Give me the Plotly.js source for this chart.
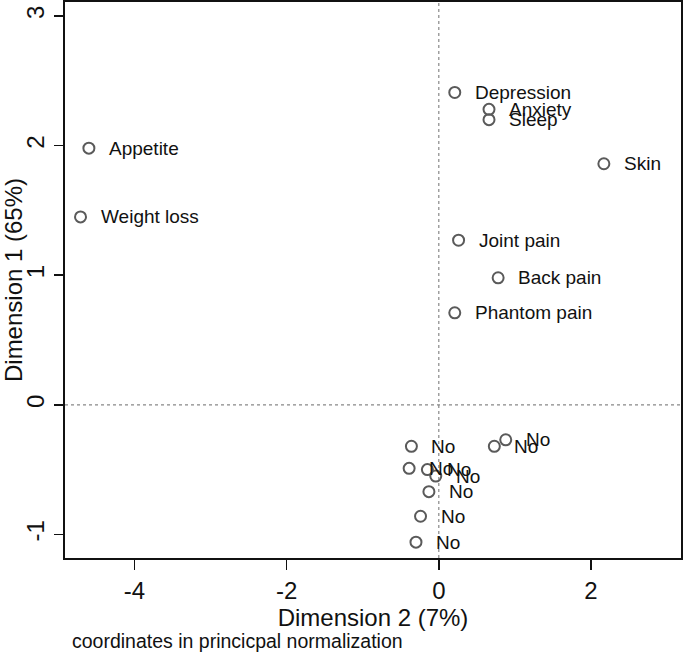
<!DOCTYPE html>
<html><head><meta charset="utf-8">
<script src="https://cdn.plot.ly/plotly-3.0.1.min.js"></script>
<style>html,body{margin:0;padding:0;background:#fff}</style>
</head><body><div id="chart" style="width:685px;height:655px"></div>
<script>
const symptomLabels = ["Depression","Anxiety","Sleep","Skin","Appetite","Weight loss","Joint pain","Back pain","Phantom pain"];
const symptomX = [0.21, 0.66, 0.66, 2.17, -4.60, -4.71, 0.26, 0.78, 0.21];
const symptomY = [2.41, 2.28, 2.20, 1.86, 1.98, 1.45, 1.27, 0.98, 0.71];
const noLabels = ["No","No","No","No","No","No","No","No","No"];
const noX = [-0.36, 0.88, 0.73, -0.39, -0.15, -0.04, -0.13, -0.24, -0.30];
const noY = [-0.32, -0.27, -0.32, -0.49, -0.50, -0.55, -0.67, -0.86, -1.06];
const xTickVals = [-4, -2, 0, 2];
const yTickVals = [-1, 0, 1, 2, 3];
const xTitle = "Dimension 2 (7%)";
const yTitle = "Dimension 1 (65%)";
const note = "coordinates in princicpal normalization";

const FONT = "Liberation Sans, Arial, sans-serif";
const allX = symptomX.concat(noX);
const allY = symptomY.concat(noY);
const allL = symptomLabels.concat(noLabels);

const trace = {
  x: allX, y: allY, mode: 'markers', type: 'scatter',
  marker: {symbol: 'circle-open', size: 11, color: '#5a5a5a', line: {width: 2, color: '#5a5a5a'}},
  hoverinfo: 'skip', showlegend: false
};

const annotations = allL.map((t, i) => ({
  x: allX[i], y: allY[i], xref: 'x', yref: 'y', text: t, showarrow: false,
  xanchor: 'left', yanchor: 'middle', xshift: 18,
  font: {family: FONT, size: 19, color: '#111'}
}));
annotations.push({
  xref: 'paper', yref: 'paper', x: 0.008, y: -0.149, xanchor: 'left', yanchor: 'middle',
  text: note, showarrow: false, font: {family: FONT, size: 19.5, color: '#111'}
});

const layout = {
  width: 685, height: 655,
  margin: {l: 65, r: 4, t: 2, b: 97},
  paper_bgcolor: '#fff', plot_bgcolor: '#fff',
  font: {family: FONT, color: '#111'},
  xaxis: {
    range: [-4.914, 3.184], tickvals: xTickVals, ticktext: xTickVals.map(String),
    showgrid: false, zeroline: false, showline: true, mirror: true,
    linecolor: '#111', linewidth: 2, ticks: 'outside', ticklen: 10, tickwidth: 1.5, tickcolor: '#111',
    tickfont: {family: FONT, size: 24, color: '#111'},
    title: {text: xTitle, font: {family: FONT, size: 24, color: '#111'}, standoff: 1}
  },
  yaxis: {
    range: [-1.182, 3.108], tickvals: yTickVals, ticktext: yTickVals.map(String),
    showgrid: false, zeroline: false, showline: true, mirror: true,
    linecolor: '#111', linewidth: 2, ticks: 'outside', ticklen: 9, tickwidth: 1.5, tickcolor: '#111',
    tickangle: -90,
    tickfont: {family: FONT, size: 24, color: '#111'},
    title: {text: yTitle, font: {family: FONT, size: 24, color: '#111'}, standoff: 3}
  },
  shapes: [
    {type: 'line', xref: 'x', yref: 'paper', x0: 0, x1: 0, y0: 0, y1: 1, line: {color: '#888', width: 1.2, dash: 'dot'}},
    {type: 'line', xref: 'paper', yref: 'y', x0: 0, x1: 1, y0: 0, y1: 0, line: {color: '#888', width: 1.2, dash: 'dot'}}
  ],
  annotations: annotations
};

Plotly.newPlot('chart', [trace], layout, {displayModeBar: false, staticPlot: true});
</script></body></html>
